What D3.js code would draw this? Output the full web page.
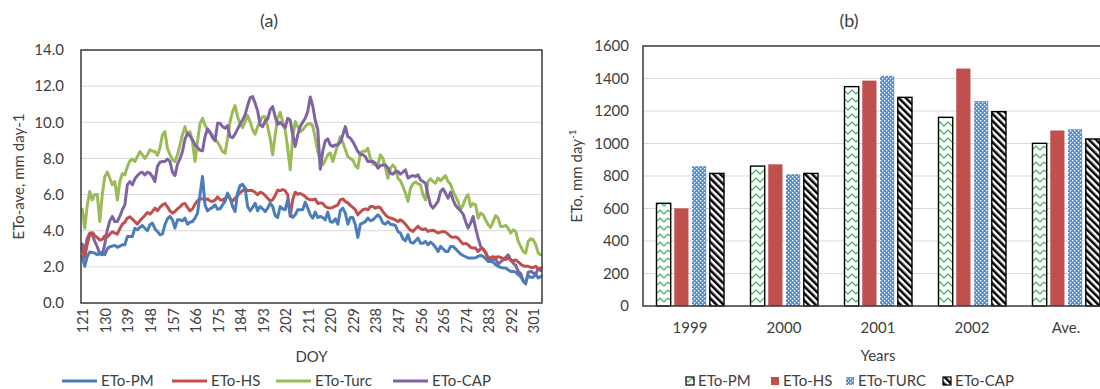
<!DOCTYPE html>
<html><head><meta charset="utf-8">
<script src="https://cdn.jsdelivr.net/npm/d3@7"></script>
<style>
html,body{margin:0;padding:0;background:#fff;}
text{font-family:Lato,"Open Sans",sans-serif;fill:#404040;}
</style></head><body>
<svg id="chart" width="1100" height="389"></svg>
<script>
// ---------- DATA : panel (a) daily ETo (mm/day), DOY 121..304 ----------
const doyStart = 121;
const etoPM = [
2.58,2.03,2.58,2.82,2.80,2.76,2.67,2.76,2.82,2.67,
3.00,3.11,3.15,3.19,3.08,3.15,3.22,3.22,3.68,3.68,
3.68,4.14,4.05,4.18,4.29,4.14,4.00,4.33,4.42,4.11,
3.96,3.78,3.81,4.33,4.66,4.79,4.60,4.14,4.60,4.60,
4.55,4.70,4.36,4.47,4.51,4.70,4.97,5.99,7.00,5.43,
5.10,5.21,5.29,5.43,5.19,5.21,5.43,5.62,6.08,5.80,
5.34,5.06,6.08,6.50,6.57,6.35,5.34,5.10,5.29,5.52,
5.10,5.34,5.21,5.06,5.25,5.52,5.34,4.84,4.73,5.34,
5.21,5.16,5.71,4.97,4.73,4.88,5.16,5.16,5.16,5.58,
5.25,4.88,4.70,
5.03,4.73,4.79,4.73,4.60,5.03,4.51,
4.47,4.66,4.36,5.10,5.25,4.97,4.36,4.73,4.73,4.33,
3.63,4.36,4.42,4.51,4.70,4.55,4.60,4.73,4.88,4.73,
4.42,4.36,4.51,4.36,4.33,4.29,3.96,3.87,3.55,3.44,
3.78,3.37,3.31,3.44,3.59,3.31,3.31,3.41,3.22,3.37,
3.26,3.08,2.85,3.13,3.00,2.85,2.85,3.13,3.13,3.00,
2.85,2.71,2.63,2.56,2.49,2.49,2.49,2.50,2.58,2.63,
2.58,2.45,2.30,2.30,2.27,2.12,2.03,1.97,1.93,1.93,
1.84,1.75,1.75,1.71,1.57,1.45,1.23,1.16,1.53,1.42,
1.42,1.60,1.38,1.47];
const etoHS = [
3.04,2.52,3.26,3.78,3.90,3.72,3.63,3.48,3.52,3.72,
3.66,3.81,3.94,3.87,3.81,4.11,4.36,4.47,4.70,4.77,
4.64,4.51,4.36,4.55,4.70,4.84,5.01,4.92,5.06,5.25,
5.10,5.29,5.43,5.51,5.32,5.10,4.97,5.06,5.21,5.32,
5.47,5.51,5.29,5.10,5.21,5.47,5.65,5.78,5.76,5.73,
5.76,5.65,5.62,5.69,5.87,5.71,5.69,5.80,5.95,5.76,
5.65,5.80,5.95,6.10,6.21,6.35,6.21,6.24,6.21,6.13,
5.99,6.13,6.08,5.95,5.80,5.65,5.71,5.95,6.24,6.21,
6.28,6.21,5.99,4.80,5.71,6.13,6.02,6.06,5.99,5.89,
5.76,5.71,5.71,
5.76,5.51,5.54,5.51,5.34,5.27,5.25,
5.29,5.36,5.43,5.71,5.76,5.62,5.54,5.40,5.29,5.16,
4.88,5.03,5.16,5.21,5.16,5.34,5.34,5.25,5.32,5.27,
5.06,4.88,4.75,4.70,4.66,4.60,4.51,4.60,4.51,4.36,
4.18,4.03,3.96,4.11,4.25,4.11,4.07,4.11,3.96,4.01,
4.03,3.96,3.87,3.92,3.96,3.92,3.81,3.68,3.63,3.66,
3.59,3.41,3.26,3.30,3.22,3.08,3.04,3.04,2.85,3.00,
3.00,2.76,2.49,2.52,2.56,2.52,2.56,2.52,2.45,2.41,
2.49,2.38,2.34,2.38,2.27,2.15,2.06,2.03,2.03,1.97,
1.97,2.03,1.88,1.93];
const etoTurc = [
5.20,4.14,5.40,6.17,5.70,6.00,6.00,4.51,6.00,7.00,
7.24,6.90,6.54,6.72,5.70,6.72,7.16,7.09,7.55,7.86,
7.97,7.83,8.10,8.38,8.20,8.00,8.20,8.47,8.40,8.38,
8.16,8.56,9.30,9.48,8.56,8.20,7.95,7.83,8.20,8.75,
9.30,9.76,9.30,9.48,8.93,7.83,8.93,9.94,10.22,9.85,
9.58,9.40,9.30,9.08,8.90,8.66,8.38,8.29,9.12,10.04,
10.59,10.92,10.31,9.94,9.70,10.04,10.37,10.04,9.58,9.34,
9.76,10.07,10.31,10.31,9.76,9.12,8.20,9.30,10.22,10.55,
10.04,9.58,8.56,7.37,9.12,10.04,9.76,9.48,9.58,9.76,
9.90,9.94,9.80,
9.12,8.38,7.90,7.64,7.90,8.20,8.30,
7.83,8.30,8.75,9.20,8.90,8.50,8.10,8.00,7.90,7.60,
7.46,8.30,8.40,8.40,8.56,8.00,7.70,7.64,7.64,8.20,
8.00,7.50,6.90,7.46,7.64,7.46,6.90,6.76,6.45,6.08,
5.62,6.35,6.60,6.70,6.60,6.54,6.00,5.70,6.72,6.87,
6.72,6.63,6.91,6.76,6.91,7.05,6.72,6.57,6.17,5.90,
5.62,5.15,5.43,5.80,5.99,5.34,5.50,5.43,4.70,4.97,
4.88,4.60,4.33,4.18,4.50,4.84,4.70,4.24,4.24,4.30,
4.14,3.87,4.05,3.96,3.41,3.13,2.85,2.76,3.41,3.55,
3.50,3.22,2.76,2.67];
const etoCAP = [
3.26,2.89,3.59,3.87,3.78,3.41,3.11,2.71,2.67,3.26,
4.05,4.55,4.79,4.51,4.51,4.79,5.16,5.43,6.54,6.72,
6.54,6.87,7.05,7.18,7.24,7.09,7.24,7.18,7.00,6.72,
7.55,7.79,7.83,7.83,7.97,7.83,7.24,7.05,7.68,7.97,
8.38,9.06,9.39,9.25,9.02,8.75,8.60,8.45,8.42,9.21,
9.63,9.45,9.15,8.97,9.94,9.94,9.76,9.67,9.82,9.21,
9.15,9.34,9.63,9.89,10.13,10.41,10.92,11.36,11.42,11.05,
10.63,9.85,9.76,10.07,10.18,10.68,10.87,10.31,9.89,10.00,
9.85,9.70,10.22,10.13,9.30,8.66,9.30,9.76,10.00,10.22,
10.60,11.40,10.90,
10.10,9.60,7.40,8.40,8.97,9.08,8.75,
8.66,8.75,8.75,8.90,9.30,9.76,9.21,9.12,8.93,8.66,
8.38,8.23,8.20,8.10,7.83,7.83,7.83,7.73,7.46,7.60,
7.64,7.64,7.46,7.18,7.13,7.27,7.27,7.13,7.24,7.37,
6.91,7.00,7.05,7.00,7.09,6.81,6.72,6.63,5.99,5.43,
5.25,5.43,5.62,6.17,6.32,6.08,5.80,6.13,5.71,5.40,
5.25,5.10,4.92,4.51,4.14,4.42,4.79,4.14,3.59,3.13,
2.95,2.82,2.49,2.34,2.39,2.45,2.15,2.27,2.39,2.52,
2.67,2.39,2.21,2.08,1.75,1.64,1.20,1.05,1.71,1.75,
1.66,1.60,1.90,1.79];
const doyTicks = [121,130,139,148,157,166,175,184,193,202,211,220,229,238,247,256,265,274,283,292,301];
const yTicksA = [0,2,4,6,8,10,12,14];

// ---------- DATA : panel (b) annual ETo ----------
const years = ["1999","2000","2001","2002","Ave."];
const annPM   = [632, 861, 1350, 1161, 1001];
const annHS   = [601, 872, 1387, 1461, 1080];
const annTURC = [861, 812, 1417, 1261, 1088];
const annCAP  = [816, 816, 1284, 1196, 1028];
const yTicksB = [0,200,400,600,800,1000,1200,1400,1600];

// ---------- drawing ----------
const FS = 15;
const svg = d3.select("#chart");
const defs = svg.append("defs");

// patterns
const pPM = defs.append("pattern").attr("id","pPM").attr("patternUnits","userSpaceOnUse").attr("width",8).attr("height",8);
pPM.append("rect").attr("width",8).attr("height",8).attr("fill","#fff");
pPM.append("path").attr("d","M0,6 L4,2 L8,6 M0,6 L-1,7 M8,6 L9,7").attr("stroke","#2fb457").attr("stroke-width",1.1).attr("fill","none");
const pTU = defs.append("pattern").attr("id","pTU").attr("patternUnits","userSpaceOnUse").attr("width",4).attr("height",4);
pTU.append("rect").attr("width",4).attr("height",4).attr("fill","#4f93dc");
pTU.append("rect").attr("x",0).attr("y",0).attr("width",1.3).attr("height",1.3).attr("fill","#fff");
pTU.append("rect").attr("x",2).attr("y",2).attr("width",1.3).attr("height",1.3).attr("fill","#fff");
const pCA = defs.append("pattern").attr("id","pCA").attr("patternUnits","userSpaceOnUse").attr("width",5).attr("height",5).attr("patternTransform","rotate(-45)");
pCA.append("rect").attr("width",5).attr("height",5).attr("fill","#fff");
pCA.append("rect").attr("width",2.5).attr("height",5).attr("fill","#000");

// ===== Panel (a) =====
const A = {x0:81, x1:542, y0:50, y1:303};
const xA = d3.scaleLinear().domain([doyStart-0.5, doyStart+etoPM.length-0.5]).range([A.x0, A.x1]);
const yA = d3.scaleLinear().domain([0,14]).range([A.y1, A.y0]);
const gA = svg.append("g");
gA.selectAll("line.grid").data(yTicksA.slice(1,-1)).join("line")
  .attr("x1",A.x0).attr("x2",A.x1).attr("y1",d=>yA(d)).attr("y2",d=>yA(d))
  .attr("stroke","#d9d9d9").attr("stroke-width",1);
const seriesA = [
  {name:"ETo-PM", vals:etoPM, color:"#4a7ebb"},
  {name:"ETo-HS", vals:etoHS, color:"#c0504d"},
  {name:"ETo-Turc", vals:etoTurc, color:"#9bbb59"},
  {name:"ETo-CAP", vals:etoCAP, color:"#8064a2"}
];
const lineGen = d3.line().x((d,i)=>xA(doyStart+i)).y(d=>yA(d));
const drawOrder = [2,3,1,0];
drawOrder.forEach(k=>{
  gA.append("path").attr("d", lineGen(seriesA[k].vals)).attr("fill","none")
    .attr("stroke", seriesA[k].color).attr("stroke-width",3).attr("stroke-linejoin","round").attr("stroke-linecap","round");
});
gA.append("rect").attr("x",A.x0).attr("y",A.y0).attr("width",A.x1-A.x0).attr("height",A.y1-A.y0)
  .attr("fill","none").attr("stroke","#3a3a3a").attr("stroke-width",1.5);
gA.selectAll("text.yt").data(yTicksA).join("text")
  .attr("x",64).attr("y",d=>yA(d)).attr("dy","0.35em").attr("text-anchor","end")
  .attr("font-size",FS).text(d=>d.toFixed(1));
gA.selectAll("text.xt").data(doyTicks).join("text")
  .attr("transform",d=>`translate(${xA(d)+1},308) rotate(-90)`).attr("dy","0.35em")
  .attr("text-anchor","end").attr("font-size",FS-0.5).text(d=>d);
gA.append("text").attr("x",(A.x0+A.x1)/2).attr("y",362).attr("text-anchor","middle").attr("font-size",FS).text("DOY");
gA.append("text").attr("transform",`translate(24,${(A.y0+A.y1)/2}) rotate(-90)`).attr("text-anchor","middle")
  .attr("font-size",FS).text("ETo-ave, mm day-1");
gA.append("text").attr("x",269).attr("y",27).attr("text-anchor","middle").attr("font-size",18).text("(a)");
const legA = [62,172,276,393];
seriesA.forEach((s,i)=>{
  gA.append("line").attr("x1",legA[i]).attr("x2",legA[i]+35).attr("y1",381).attr("y2",381)
    .attr("stroke",s.color).attr("stroke-width",3);
  gA.append("text").attr("x",legA[i]+39).attr("y",381).attr("dy","0.35em").attr("font-size",FS).text(s.name);
});

// ===== Panel (b) =====
const B = {x0:643, x1:1113, y0:46, y1:306};
const xB = d3.scaleBand().domain(years).range([B.x0, B.x1]);
const yB = d3.scaleLinear().domain([0,1600]).range([B.y1, B.y0]);
const seriesB = [
  {name:"ETo-PM", vals:annPM, fill:"url(#pPM)", stroke:"#000"},
  {name:"ETo-HS", vals:annHS, fill:"#c0504d", stroke:"none"},
  {name:"ETo-TURC", vals:annTURC, fill:"url(#pTU)", stroke:"none"},
  {name:"ETo-CAP", vals:annCAP, fill:"url(#pCA)", stroke:"#000"}
];
const xInner = d3.scaleBand().domain(seriesB.map(s=>s.name)).range([-33.5,34]).paddingInner(0.2);
const gB = svg.append("g");
gB.selectAll("line.grid").data(yTicksB.slice(1,-1)).join("line")
  .attr("x1",B.x0).attr("x2",B.x1).attr("y1",d=>yB(d)).attr("y2",d=>yB(d))
  .attr("stroke","#d9d9d9").attr("stroke-width",1);
seriesB.forEach(s=>{
  gB.selectAll(null).data(years).join("rect")
    .attr("x",(d)=>xB(d)+xB.bandwidth()/2+xInner(s.name))
    .attr("width",xInner.bandwidth())
    .attr("y",(d,i)=>yB(s.vals[i]))
    .attr("height",(d,i)=>yB(0)-yB(s.vals[i]))
    .attr("fill",s.fill).attr("stroke",s.stroke).attr("stroke-width",s.stroke==="none"?0:1.4);
});
gB.append("rect").attr("x",B.x0).attr("y",B.y0).attr("width",B.x1-B.x0).attr("height",B.y1-B.y0)
  .attr("fill","none").attr("stroke","#3a3a3a").attr("stroke-width",1.5);
gB.selectAll("text.yt").data(yTicksB).join("text")
  .attr("x",629).attr("y",d=>yB(d)).attr("dy","0.35em").attr("text-anchor","end")
  .attr("font-size",FS).text(d=>d);
gB.selectAll("text.xt").data(years).join("text")
  .attr("x",d=>xB(d)+xB.bandwidth()/2).attr("y",333).attr("text-anchor","middle")
  .attr("font-size",FS).text(d=>d);
gB.append("text").attr("x",(B.x0+B.x1)/2).attr("y",361).attr("text-anchor","middle").attr("font-size",FS).text("Years");
const yt = gB.append("text").attr("transform",`translate(582,${(B.y0+B.y1)/2}) rotate(-90)`).attr("text-anchor","middle").attr("font-size",FS);
yt.append("tspan").text("ETo, mm day");
yt.append("tspan").attr("font-size",10).attr("dy",-6).text("-1");
gB.append("text").attr("x",849).attr("y",27).attr("text-anchor","middle").attr("font-size",18).text("(b)");
const legB = [686,771,846,943];
seriesB.forEach((s,i)=>{
  gB.append("rect").attr("x",legB[i]).attr("y",377).attr("width",8).attr("height",8)
    .attr("fill",s.fill).attr("stroke",s.stroke).attr("stroke-width",s.stroke==="none"?0:1.2);
  gB.append("text").attr("x",legB[i]+12).attr("y",381).attr("dy","0.35em").attr("font-size",FS).text(s.name);
});
</script>
</body></html>
